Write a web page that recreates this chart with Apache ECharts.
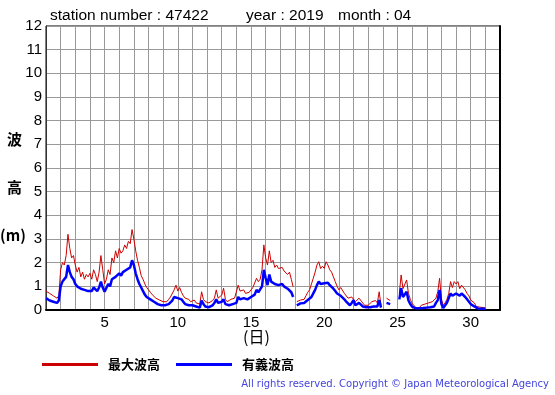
<!DOCTYPE html>
<html><head><meta charset="utf-8">
<script src="https://cdn.jsdelivr.net/npm/echarts@6/dist/echarts.min.js"></script>
<style>html,body{margin:0;padding:0;background:#fff}#c{width:555px;height:395px}</style>
</head><body><div id="c"></div>
<script>
const titleParts = ['station number : 47422', 'year : 2019', 'month : 04'];
const yTicks = [0,1,2,3,4,5,6,7,8,9,10,11,12];
const xLabels = [5,10,15,20,25,30];
const seriesNames = ['最大波高','有義波高'];
const startDay = 1;
const samplesPerDay = 8; // 3-hourly readings
// 最大波高 (max wave height, m)
const maxWave = [
 0.8,0.75,0.7,0.75,0.6,0.55,0.5,0.6,
 1.7,2.0,1.9,2.3,3.2,2.6,2.2,2.3,
 1.9,1.6,1.8,1.4,1.6,1.3,1.5,1.4,
 1.55,1.3,1.7,1.5,1.2,1.6,2.3,1.7,
 1.1,1.3,1.7,1.5,2.2,2.0,2.5,2.2,
 2.6,2.4,2.5,2.75,2.6,2.9,2.8,3.4,
 3.0,2.5,2.1,1.8,1.45,1.3,1.1,0.95,
 0.85,0.75,0.65,0.6,0.5,0.5,0.42,0.45,
 0.35,0.4,0.35,0.45,0.55,0.6,0.85,1.05,
 0.8,0.95,0.75,0.6,0.5,0.42,0.45,0.35,
 0.4,0.42,0.3,0.35,0.25,0.77,0.45,0.35,
 0.28,0.3,0.35,0.4,0.5,0.85,0.5,0.45,
 0.63,0.92,0.45,0.35,0.4,0.45,0.4,0.5,
 0.5,1.05,0.8,0.77,0.85,0.7,0.65,0.75,
 0.85,0.95,1.0,1.34,1.2,1.3,1.7,2.75,
 2.2,1.9,2.5,2.0,2.1,1.8,1.9,1.75,
 1.7,1.8,1.65,1.7,1.5,1.6,1.3,0.98,
 null,0.35,0.4,0.42,0.5,0.45,0.6,0.75,
 0.85,1.1,1.34,1.6,1.9,2.04,1.75,1.85,
 1.76,2.04,1.9,1.7,1.6,1.4,1.2,1.0,
 0.85,0.95,0.98,0.7,0.63,0.5,0.42,0.55,
 0.63,0.35,0.4,0.5,0.45,0.3,0.2,0.25,
 0.2,0.25,0.35,0.3,0.4,0.3,0.77,0.2,
 null,null,0.5,0.45,0.4,null,null,null,
 null,0.7,1.48,0.9,0.95,1.27,0.7,0.45,
 0.28,0.2,0.1,0.15,0.1,0.2,0.15,0.25,
 0.2,0.3,0.25,0.35,0.3,0.5,0.77,1.34,
 0.45,0.2,0.3,0.45,0.7,1.2,0.95,1.2,
 1.1,1.2,0.9,1.05,1.0,0.85,0.7,0.6,
 0.42,0.35,0.3,0.15,0.1,0.12,0.1,0.1,
 0.08
];
// 有義波高 (significant wave height, m)
const sigWave = [
 0.5,0.45,0.4,0.45,0.35,0.35,0.3,0.4,
 1.0,1.2,1.15,1.4,1.9,1.6,1.4,1.3,
 1.1,1.0,1.0,0.9,0.95,0.85,0.9,0.8,
 0.85,0.8,0.95,0.9,0.8,0.95,1.2,0.95,
 0.77,0.85,1.1,1.0,1.3,1.25,1.4,1.45,
 1.55,1.45,1.6,1.55,1.7,1.65,1.8,2.1,
 1.9,1.55,1.3,1.1,0.95,0.8,0.65,0.55,
 0.5,0.45,0.4,0.35,0.3,0.25,0.2,0.2,
 0.15,0.2,0.2,0.25,0.3,0.4,0.55,0.63,
 0.5,0.55,0.45,0.35,0.25,0.2,0.2,0.2,
 0.2,0.2,0.15,0.15,0.1,0.4,0.25,0.15,
 0.1,0.12,0.15,0.2,0.3,0.45,0.3,0.25,
 0.35,0.45,0.25,0.2,0.2,0.25,0.25,0.3,
 0.3,0.55,0.45,0.45,0.5,0.45,0.45,0.5,
 0.55,0.6,0.65,0.85,0.75,0.8,1.0,1.7,
 1.35,1.05,1.5,1.2,1.25,1.1,1.15,1.05,
 1.05,1.1,1.0,1.0,0.9,0.9,0.75,0.55,
 null,0.2,0.25,0.28,0.3,0.3,0.38,0.42,
 0.42,0.55,0.7,0.85,1.05,1.2,1.1,1.15,
 1.13,1.2,1.15,1.05,0.98,0.9,0.8,0.7,
 0.63,0.6,0.56,0.45,0.35,0.3,0.2,0.3,
 0.42,0.2,0.25,0.3,0.28,0.15,0.1,0.12,
 0.1,0.12,0.2,0.15,0.2,0.15,0.42,0.1,
 null,null,0.3,0.3,0.25,null,null,null,
 null,0.45,0.92,0.55,0.6,0.77,0.4,0.25,
 0.14,0.1,0.07,0.08,0.07,0.1,0.08,0.12,
 0.1,0.15,0.12,0.2,0.15,0.3,0.42,0.85,
 0.25,0.08,0.15,0.3,0.5,0.7,0.6,0.65,
 0.7,0.77,0.6,0.7,0.65,0.55,0.45,0.4,
 0.25,0.2,0.15,0.08,0.06,0.07,0.05,0.06,
 0.05
];
const toPairs = arr => arr.map((v,i)=>[startDay + i/samplesPerDay, v]);

const chart = echarts.init(document.getElementById('c'), null, {renderer:'canvas'});
const font = '"Liberation Sans", Arial, sans-serif';
const cjk = '"Noto Sans CJK JP", sans-serif';
const titleFont = '15.5px "Liberation Sans"';
chart.setOption({
  animation:false,
  backgroundColor:'#fff',
  grid:{left:46, top:26, width:454, height:284, show:true, borderColor:'#000', borderWidth:1, backgroundColor:'transparent'},
  legend:{left:37, top:353, icon:'rect', itemWidth:56, itemHeight:3, itemGap:16,
    data:seriesNames,
    textStyle:{fontFamily:cjk, fontSize:13, fontWeight:'bold', color:'#000', padding:[0,0,0,5]}},
  xAxis:{type:'value', min:1, max:32, interval:1,
    axisLine:{show:true, lineStyle:{color:'#000', width:2}},
    axisTick:{show:false},
    splitLine:{show:true, lineStyle:{color:'#999', width:1}},
    axisLabel:{fontFamily:font, fontSize:15, color:'#000', margin:5,
      formatter:v => xLabels.includes(v) ? String(v) : ''}},
  yAxis:[{type:'value', min:yTicks[0], max:yTicks[yTicks.length-1], interval:1,
    axisLine:{show:true, lineStyle:{color:'#333', width:1}},
    axisTick:{show:false},
    splitLine:{show:true, lineStyle:{color:'#999', width:1}},
    axisLabel:{fontFamily:font, fontSize:15, color:'#000', margin:4}},
   {type:'value', min:0, max:12, interval:1, position:'right',
    axisLine:{show:true, lineStyle:{color:'#000', width:2}},
    axisTick:{show:false}, axisLabel:{show:false}, splitLine:{show:false}}],
  series:[
    {name:seriesNames[0], type:'line', data:toPairs(maxWave), showSymbol:false, connectNulls:false,
      lineStyle:{color:'#cc0000', width:1}, itemStyle:{color:'#cc0000'}, z:3},
    {name:seriesNames[1], type:'line', data:toPairs(sigWave), showSymbol:false, connectNulls:false,
      lineStyle:{color:'#0000ff', width:2.5}, itemStyle:{color:'#0000ff'}, z:4}
  ],
  graphic:[
    {type:'text', left:50, top:8, style:{text:titleParts[0], font:titleFont, fill:'#000'}},
    {type:'text', left:246, top:8, style:{text:titleParts[1], font:titleFont, fill:'#000'}},
    {type:'text', left:338, top:8, style:{text:titleParts[2], font:titleFont, fill:'#000'}},
    {type:'text', left:7, top:132, style:{text:'波', font:'bold 15px "Noto Sans CJK JP"', fill:'#000'}},
    {type:'text', left:7, top:180, style:{text:'高', font:'bold 15px "Noto Sans CJK JP"', fill:'#000'}},
    {type:'text', left:0, top:228, style:{text:'(m)', font:'bold 15px "Noto Sans CJK JP"', fill:'#000'}},
    {type:'text', left:243, top:329, style:{text:'(日)', font:'16px "Noto Sans CJK JP"', fill:'#000'}},
    {type:'text', right:6, top:379, style:{text:'All rights reserved. Copyright © Japan Meteorological Agency', font:'10px "DejaVu Sans"', fill:'#4444dd'}}
  ]
});
</script></body></html>
